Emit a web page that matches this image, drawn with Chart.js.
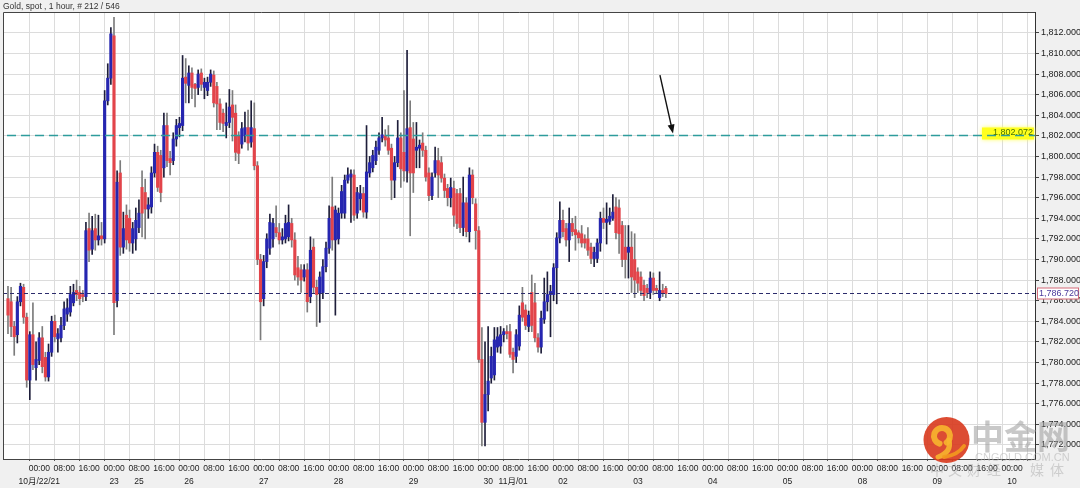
<!DOCTYPE html>
<html>
<head>
<meta charset="utf-8">
<script src="https://cdn.jsdelivr.net/npm/chart.js@4.4.0/dist/chart.umd.min.js"></script>
<style>
  html, body { margin: 0; padding: 0; background: #f0f0f0; }
</style>
</head>
<body>
<canvas id="gold" width="1080" height="488"></canvas>
<script>
// hourly candles
const opens = [
  1786.2,1785.9,1783.5,1782.7,1785.9,1787.3,1784.4,1778.3,1782.7,1779.5,
  1780.2,1782.4,1780.5,1778.6,1781.0,1784.0,1782.3,1782.4,1783.6,1784.7,
  1784.9,1785.8,1787.0,1786.8,1786.6,1786.4,1793.0,1791.0,1793.0,1791.9,
  1792.3,1792.0,1805.4,1807.6,1811.7,1786.0,1798.4,1791.2,1794.3,1794.0,
  1791.6,1792.0,1793.1,1797.0,1796.5,1794.9,1795.1,1798.4,1800.4,1800.1,
  1798.9,1803.0,1799.8,1799.6,1801.7,1802.8,1803.0,1807.7,1806.9,1808.1,
  1807.0,1806.7,1808.1,1806.7,1806.4,1807.2,1807.9,1806.8,1805.1,1804.2,
  1803.0,1803.3,1805.0,1804.2,1802.0,1801.2,1802.0,1802.8,1801.4,1802.7,
  1799.1,1790.0,1786.2,1789.8,1791.1,1792.0,1793.1,1792.6,1791.9,1792.0,
  1792.2,1793.5,1791.9,1789.2,1789.0,1788.3,1789.0,1786.4,1791.2,1787.3,
  1786.7,1786.8,1789.3,1791.1,1795.1,1791.9,1792.0,1794.5,1794.5,1797.7,
  1798.0,1798.2,1794.5,1795.9,1796.4,1794.6,1798.4,1798.9,1799.6,1800.6,
  1801.8,1802.0,1801.8,1800.8,1797.7,1799.4,1801.8,1800.4,1798.6,1802.8,
  1801.7,1800.6,1800.8,1801.3,1800.6,1798.4,1796.2,1798.4,1799.6,1799.4,
  1797.9,1796.9,1796.0,1796.9,1796.4,1796.4,1793.1,1795.5,1792.7,1798.2,
  1795.4,1792.8,1780.3,1774.2,1776.9,1778.5,1778.8,1781.5,1781.6,1782.7,
  1783.0,1783.0,1781.0,1780.6,1781.6,1785.8,1785.1,1783.5,1786.8,1785.8,
  1782.4,1781.5,1784.2,1785.9,1786.6,1786.6,1789.2,1792.1,1793.8,1793.0,
  1791.9,1793.5,1792.9,1792.6,1792.5,1792.0,1792.0,1791.2,1790.1,1790.1,
  1791.6,1794.0,1793.6,1793.7,1794.0,1795.1,1795.0,1793.3,1791.2,1790.7,
  1791.2,1790.0,1788.8,1788.3,1787.5,1787.2,1786.8,1788.2,1787.2,1786.3,
  1787.0,1787.2
];
const highs = [
  1787.4,1787.3,1784.0,1786.4,1787.7,1787.6,1784.8,1783.0,1785.8,1782.0,
  1782.9,1783.5,1781.0,1781.8,1784.5,1784.6,1783.3,1784.4,1785.9,1786.2,
  1787.4,1787.6,1788.0,1787.4,1787.0,1793.6,1794.5,1794.2,1794.4,1794.3,
  1793.6,1806.4,1809.0,1812.5,1813.5,1798.6,1799.6,1794.6,1795.3,1794.8,
  1793.6,1795.0,1795.8,1798.6,1797.8,1796.0,1799.0,1801.2,1801.0,1800.6,
  1804.2,1804.2,1800.5,1802.3,1803.6,1803.8,1809.8,1809.5,1808.8,1808.6,
  1807.1,1808.4,1808.5,1807.6,1807.7,1808.4,1808.3,1807.2,1805.6,1804.6,
  1805.2,1806.5,1806.4,1805.0,1802.4,1803.3,1804.3,1804.5,1805.4,1805.2,
  1799.5,1790.5,1790.4,1792.5,1794.4,1794.0,1795.2,1793.5,1793.0,1794.3,
  1795.3,1794.0,1792.6,1790.3,1789.5,1789.5,1789.6,1792.2,1792.0,1788.0,
  1788.8,1790.0,1791.7,1795.2,1798.0,1795.2,1795.0,1797.2,1798.2,1798.9,
  1798.7,1798.7,1797.0,1797.2,1797.0,1803.0,1800.0,1800.6,1801.5,1802.3,
  1803.8,1802.6,1803.0,1801.2,1800.0,1803.5,1802.3,1806.4,1810.3,1805.4,
  1803.3,1803.3,1801.6,1802.3,1801.0,1798.9,1798.4,1800.9,1800.8,1800.0,
  1798.3,1797.3,1797.9,1797.6,1796.8,1796.9,1798.0,1796.0,1798.9,1798.7,
  1795.9,1793.2,1783.4,1782.0,1783.5,1781.5,1783.4,1783.4,1783.5,1783.3,
  1783.6,1783.7,1781.4,1783.2,1785.5,1787.3,1785.6,1785.0,1788.5,1787.7,
  1782.8,1785.0,1788.2,1788.8,1787.5,1789.6,1792.6,1795.6,1794.8,1793.5,
  1795.0,1794.0,1794.2,1792.8,1793.3,1792.4,1793.1,1791.6,1791.2,1792.0,
  1794.6,1795.0,1795.5,1795.0,1796.3,1796.0,1795.8,1793.7,1793.3,1793.3,
  1792.7,1792.5,1789.2,1788.8,1788.0,1787.6,1788.8,1788.7,1787.5,1788.8,
  1787.6,1787.4
];
const lows = [
  1782.8,1782.5,1780.7,1781.9,1785.5,1783.8,1777.6,1776.4,1779.3,1778.3,
  1779.8,1779.0,1778.2,1778.2,1780.6,1782.0,1781.0,1782.0,1783.2,1784.0,
  1784.5,1785.5,1786.0,1785.6,1785.9,1786.0,1789.8,1790.5,1790.9,1791.4,
  1791.4,1791.6,1805.0,1807.0,1782.7,1785.4,1790.4,1790.6,1791.0,1790.8,
  1790.6,1790.9,1792.6,1792.2,1792.0,1794.0,1794.5,1798.0,1796.6,1795.6,
  1798.0,1799.0,1798.2,1799.2,1801.0,1801.9,1802.5,1805.2,1805.2,1805.6,
  1804.8,1806.0,1806.4,1805.6,1805.9,1806.8,1804.8,1802.6,1802.6,1802.4,
  1801.8,1802.8,1801.5,1799.6,1799.3,1800.8,1801.4,1800.6,1800.9,1798.7,
  1789.5,1782.2,1785.5,1789.2,1790.5,1791.2,1792.2,1791.5,1791.5,1791.6,
  1791.8,1791.2,1788.0,1787.5,1786.8,1787.9,1784.9,1785.8,1786.7,1783.5,
  1783.9,1786.2,1788.8,1790.6,1790.9,1784.6,1791.5,1794.0,1794.0,1797.4,
  1793.6,1793.8,1794.0,1794.8,1794.1,1794.0,1798.0,1798.5,1799.2,1800.2,
  1801.4,1801.0,1800.2,1795.8,1796.0,1799.0,1797.0,1797.6,1797.5,1792.3,
  1796.5,1798.9,1798.9,1800.0,1797.6,1795.7,1795.8,1798.0,1796.0,1797.5,
  1796.0,1795.2,1795.1,1793.2,1793.0,1792.6,1792.3,1792.2,1791.7,1795.4,
  1791.0,1780.0,1771.9,1771.9,1775.3,1778.0,1778.3,1781.0,1780.9,1782.0,
  1782.3,1780.5,1779.0,1780.0,1781.2,1784.0,1783.2,1783.0,1783.0,1782.0,
  1781.0,1780.9,1783.8,1785.0,1782.5,1786.0,1785.7,1791.6,1792.2,1791.3,
  1789.8,1792.3,1790.9,1791.6,1791.2,1791.1,1790.4,1789.6,1789.3,1789.7,
  1790.8,1793.0,1791.5,1793.4,1793.8,1792.0,1790.6,1789.3,1788.2,1788.2,
  1786.8,1786.3,1786.8,1786.5,1786.0,1786.3,1786.2,1786.6,1786.7,1786.0,
  1786.4,1786.3
];
const closes = [
  1784.6,1783.5,1782.5,1785.9,1787.4,1784.4,1778.3,1782.7,1779.8,1780.3,
  1782.4,1779.6,1778.6,1781.0,1784.0,1782.5,1782.8,1783.6,1785.2,1785.3,
  1786.6,1786.8,1786.6,1786.2,1786.4,1792.8,1790.9,1792.8,1791.9,1792.3,
  1792.0,1805.4,1807.6,1811.9,1785.8,1797.5,1791.2,1793.0,1791.9,1791.6,
  1793.0,1793.8,1794.5,1794.5,1794.9,1795.3,1798.4,1800.4,1797.0,1796.5,
  1803.0,1799.6,1799.4,1801.7,1803.0,1803.2,1807.6,1807.1,1808.1,1806.7,
  1806.6,1808.0,1807.0,1807.2,1807.2,1808.0,1805.2,1805.1,1803.3,1803.2,
  1803.3,1804.8,1803.8,1800.4,1800.3,1802.7,1802.8,1801.3,1802.8,1799.1,
  1790.0,1785.9,1789.8,1792.0,1793.6,1793.5,1792.6,1791.9,1792.2,1793.5,
  1793.6,1791.9,1788.5,1788.3,1788.0,1789.0,1785.9,1790.9,1787.3,1786.6,
  1788.3,1789.3,1791.1,1794.0,1791.9,1794.8,1794.5,1796.6,1797.7,1798.2,
  1798.3,1794.3,1796.5,1796.4,1794.6,1798.5,1799.4,1800.1,1800.9,1801.8,
  1802.1,1801.6,1800.6,1797.7,1799.4,1801.8,1798.8,1798.6,1802.7,1798.4,
  1798.4,1800.9,1801.1,1800.6,1798.0,1796.2,1798.0,1799.6,1798.2,1797.9,
  1796.7,1796.0,1797.0,1794.3,1793.5,1793.1,1795.5,1792.7,1798.2,1796.0,
  1792.8,1780.3,1774.2,1776.9,1778.2,1780.6,1782.2,1782.5,1782.7,1783.0,
  1782.8,1780.8,1780.3,1782.7,1784.6,1784.4,1783.6,1784.6,1783.6,1782.4,
  1781.5,1784.3,1785.9,1786.6,1786.9,1789.2,1792.1,1793.8,1792.7,1791.9,
  1793.5,1792.7,1792.4,1792.1,1791.6,1791.6,1790.9,1790.1,1790.7,1791.6,
  1794.0,1793.6,1793.9,1794.2,1794.6,1792.6,1792.5,1790.0,1790.0,1791.2,
  1788.3,1788.0,1787.7,1787.0,1786.5,1786.8,1788.2,1787.0,1787.0,1787.0,
  1786.7,1786.7
];

// one tick every 8 hourly bars
const timeLabels = [
  '00:00','08:00','16:00','00:00','08:00','16:00','00:00','08:00','16:00','00:00',
  '08:00','16:00','00:00','08:00','16:00','00:00','08:00','16:00','00:00','08:00',
  '16:00','00:00','08:00','16:00','00:00','08:00','16:00','00:00','08:00','16:00',
  '00:00','08:00','16:00','00:00','08:00','16:00','00:00','08:00','16:00','00:00'
];
const dateLabels = [
  '10月/22/21','','','23','25','','26','','','27',
  '','','28','','','29','','','30','11月/01',
  '','02','','','03','','','04','','',
  '05','','','08','','','09','','','10'
];
const priceTicks = [1772,1774,1776,1778,1780,1782,1784,1786,1788,1790,1792,
                    1794,1796,1798,1800,1802,1804,1806,1808,1810,1812];
const levelLine = 1802.072;
const lastPrice = 1786.72;

const chartTitle = 'Gold, spot , 1 hour, # ' + closes.length + ' / 546';
const FONT = '"Liberation Sans", Arial, "Noto Sans CJK SC", sans-serif';
const firstTickBar = 11;

const bodies = closes.map((c, i) => ({ x: i, y: [Math.min(opens[i], c), Math.max(opens[i], c)] }));
const wicks = closes.map((c, i) => ({ x: i, y: [lows[i], highs[i]] }));
const bodyColors = closes.map((c, i) => c >= opens[i] ? '#2626b0' : '#e2444a');
const wickColors = closes.map((c, i) => c >= opens[i] ? '#1e1e3a' : '#7c7c7c');

const fmt = v => v.toLocaleString('en-US', { minimumFractionDigits: 3, maximumFractionDigits: 3 });

const decor = {
  id: 'decor',
  beforeDraw(chart) {
    const { ctx, chartArea: a } = chart;
    ctx.save();
    ctx.fillStyle = '#f0f0f0';
    ctx.fillRect(0, 0, chart.width, chart.height);
    ctx.fillStyle = '#ffffff';
    ctx.fillRect(a.left, a.top, a.right - a.left, a.bottom - a.top);
    ctx.fillStyle = '#333';
    ctx.font = '8.5px ' + FONT;
    ctx.fillText(chartTitle, 3, 9);
    ctx.restore();
  },
  afterDatasetsDraw(chart) {
    const { ctx, chartArea: a, scales: { x, y } } = chart;
    ctx.save();
    const yl = Math.round(y.getPixelForValue(levelLine)) + 0.5;
    const yp = Math.round(y.getPixelForValue(lastPrice)) + 0.5;

    // yellow tag of the level line
    ctx.shadowColor = '#ffff55';
    ctx.shadowBlur = 4;
    ctx.fillStyle = '#ffff1e';
    ctx.fillRect(a.right - 53, yl - 8, 52, 12);
    ctx.shadowBlur = 0;

    ctx.beginPath();
    ctx.setLineDash([9, 5]);
    ctx.strokeStyle = '#2e9c9c';
    ctx.lineWidth = 1.5;
    ctx.moveTo(a.left + 4, yl);
    ctx.lineTo(a.right, yl);
    ctx.stroke();

    ctx.beginPath();
    ctx.setLineDash([4, 3]);
    ctx.strokeStyle = '#2c2c6c';
    ctx.lineWidth = 1;
    ctx.moveTo(a.left, yp);
    ctx.lineTo(a.right, yp);
    ctx.stroke();
    ctx.setLineDash([]);

    ctx.fillStyle = '#4a7400';
    ctx.font = '9px ' + FONT;
    ctx.textAlign = 'right';
    ctx.textBaseline = 'middle';
    ctx.fillText(fmt(levelLine), a.right - 2, yl - 3);

    // arrow pointing at the level
    const x0 = x.getPixelForValue(209.1), y0 = y.getPixelForValue(1807.9);
    const x1 = x.getPixelForValue(213.3), y1 = yl - 2;
    const ang = Math.atan2(y1 - y0, x1 - x0);
    ctx.strokeStyle = '#111';
    ctx.fillStyle = '#111';
    ctx.lineWidth = 1.4;
    ctx.beginPath();
    ctx.moveTo(x0, y0);
    ctx.lineTo(x1 - 6 * Math.cos(ang), y1 - 6 * Math.sin(ang));
    ctx.stroke();
    ctx.beginPath();
    ctx.moveTo(x1, y1);
    ctx.lineTo(x1 - 9 * Math.cos(ang) + 3.5 * Math.sin(ang), y1 - 9 * Math.sin(ang) - 3.5 * Math.cos(ang));
    ctx.lineTo(x1 - 9 * Math.cos(ang) - 3.5 * Math.sin(ang), y1 - 9 * Math.sin(ang) + 3.5 * Math.cos(ang));
    ctx.closePath();
    ctx.fill();
    ctx.restore();
  },
  afterDraw(chart) {
    const { ctx, chartArea: a, scales: { y } } = chart;
    ctx.save();
    // frame
    ctx.strokeStyle = '#444';
    ctx.lineWidth = 1;
    ctx.beginPath();
    ctx.moveTo(a.left + 0.5, a.bottom);
    ctx.lineTo(a.left + 0.5, a.top + 0.5);
    ctx.lineTo(a.right, a.top + 0.5);
    ctx.stroke();

    // last price box on the axis
    const yp = Math.round(y.getPixelForValue(lastPrice)) + 0.5;
    ctx.fillStyle = '#ffffff';
    ctx.fillRect(a.right + 2, yp - 5.5, 41, 11);
    ctx.strokeStyle = '#d46a78';
    ctx.strokeRect(a.right + 2.5, yp - 5.5, 41, 11);
    ctx.fillStyle = '#4a3a9c';
    ctx.font = '9px ' + FONT;
    ctx.textBaseline = 'middle';
    ctx.fillText(fmt(lastPrice), a.right + 4, yp + 0.5);

    // watermark: logo
    ctx.globalAlpha = 0.9;
    ctx.fillStyle = '#d8381d';
    ctx.beginPath();
    ctx.arc(946.5, 440, 23, 0, Math.PI * 2);
    ctx.fill();
    ctx.strokeStyle = '#f7b52e';
    ctx.lineCap = 'round';
    ctx.lineWidth = 6;
    ctx.beginPath();
    ctx.arc(942, 436, 8, 0.6 * Math.PI, 2.3 * Math.PI);
    ctx.stroke();
    ctx.lineWidth = 5;
    ctx.beginPath();
    ctx.moveTo(949, 440);
    ctx.quadraticCurveTo(952, 452, 938, 457);
    ctx.stroke();
    ctx.strokeStyle = '#f39a1e';
    ctx.lineWidth = 4;
    ctx.beginPath();
    ctx.moveTo(944, 457);
    ctx.quadraticCurveTo(958, 455, 964, 446);
    ctx.stroke();

    // watermark: text
    ctx.globalAlpha = 0.55;
    ctx.fillStyle = '#9a9a9a';
    ctx.font = 'bold 33px "Noto Sans CJK SC", sans-serif';
    ctx.textBaseline = 'alphabetic';
    ctx.textAlign = 'left';
    ctx.fillText('中金网', 971, 449);
    ctx.fillStyle = '#b0b0b0';
    ctx.font = '11px ' + FONT;
    ctx.fillText('CNGOLD.COM.CN', 975, 461);
    ctx.font = '14px "Noto Sans CJK SC", sans-serif';
    ctx.textAlign = 'center';
    const wmX = [937, 955, 974, 994, 1037, 1057];
    '中文财经媒体'.split('').forEach((ch, k) => ctx.fillText(ch, wmX[k], 475));
    ctx.restore();
  }
};

new Chart(document.getElementById('gold'), {
  type: 'bar',
  data: {
    datasets: [
      {
        label: 'body',
        data: bodies,
        backgroundColor: bodyColors,
        barThickness: 2.5,
        minBarLength: 1,
        grouped: false,
        order: 0
      },
      {
        label: 'wick',
        data: wicks,
        backgroundColor: wickColors,
        barThickness: 1,
        grouped: false,
        order: 1
      }
    ]
  },
  options: {
    responsive: false,
    animation: false,
    devicePixelRatio: 1,
    events: [],
    layout: { padding: { left: 3, top: 12, right: 0, bottom: 0 } },
    plugins: { legend: { display: false }, tooltip: { enabled: false } },
    scales: {
      x: {
        type: 'linear',
        min: -1.6,
        max: 329.4,
        offset: false,
        afterBuildTicks: s => { s.ticks = timeLabels.map((t, k) => ({ value: firstTickBar + 8 * k })); },
        afterFit: s => { s.height = 29; },
        grid: { color: '#dcdcdc', tickLength: 2, tickColor: '#555' },
        border: { color: '#444' },
        ticks: {
          autoSkip: false,
          maxRotation: 0,
          padding: 1,
          labelOffset: -3,
          color: '#222',
          font: { family: FONT, size: 8.5, lineHeight: 1.55 },
          callback: (v, i) => [timeLabels[i], dateLabels[i]]
        }
      },
      y: {
        type: 'linear',
        position: 'right',
        min: 1770.64,
        max: 1814.02,
        afterBuildTicks: s => { s.ticks = priceTicks.map(v => ({ value: v })); },
        afterFit: s => { s.width = 45; },
        grid: { color: '#dcdcdc', tickLength: 4, tickColor: '#444' },
        border: { color: '#333' },
        ticks: {
          padding: 2,
          color: '#222',
          font: { family: FONT, size: 9 },
          callback: v => fmt(v)
        }
      }
    }
  },
  plugins: [decor]
});
</script>
</body>
</html>
